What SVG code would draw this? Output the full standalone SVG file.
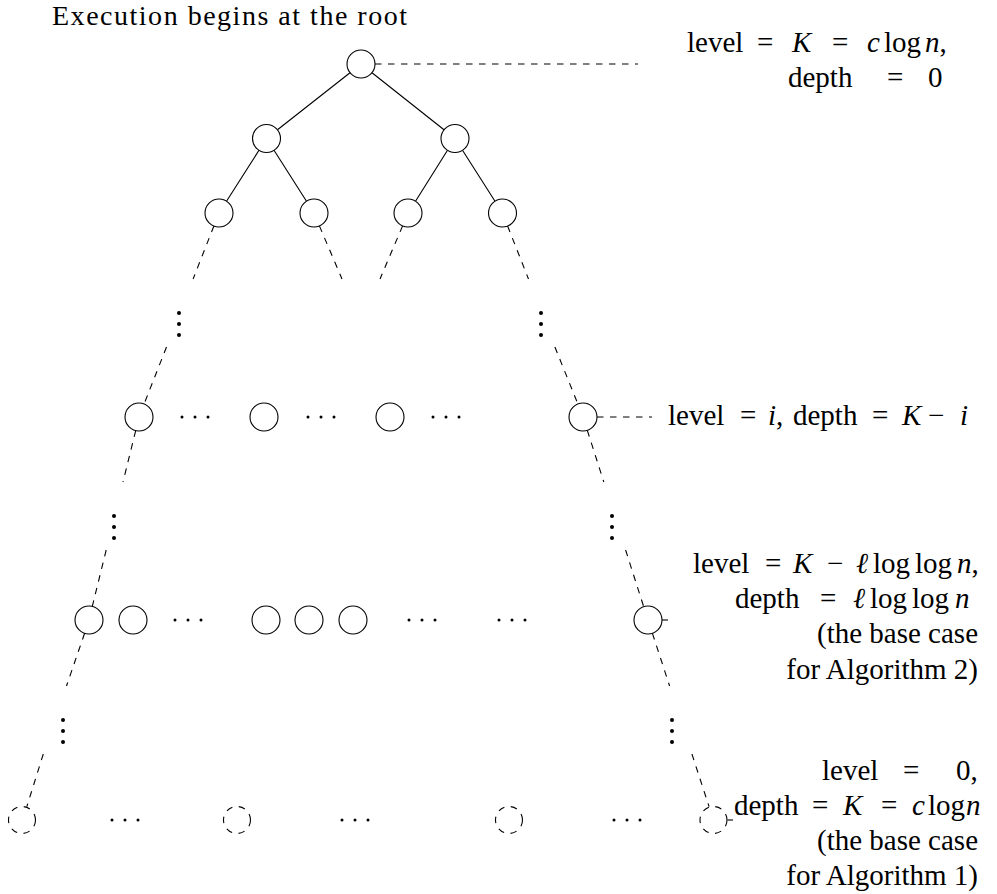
<svg xmlns="http://www.w3.org/2000/svg" width="997" height="894" viewBox="0 0 997 894">
<style>
.t{font-family:"Liberation Serif","DejaVu Serif",serif;font-size:29px;fill:#000}
.m{font-style:italic}
.n{fill:#fff;stroke:#000;stroke-width:1.1}
.dn{fill:#fff;stroke:#000;stroke-width:1.1;stroke-dasharray:6.5 6.5}
.e{fill:none;stroke:#000;stroke-width:1.1}
.d{fill:none;stroke:#000;stroke-width:1.1;stroke-dasharray:6.5 6.5}
.dot{fill:#000}
</style>
<rect width="997" height="894" fill="#fff"/>
<text class="t" x="52" y="25" style="font-size:28px" textLength="355" lengthAdjust="spacing">Execution begins at the root</text>
<g id="connectors">
<path class="e" d="M350,72.7 L277.5,129.8 M372,72.7 L444,129.8 M259,150.3 L226.5,201.2 M274,150.3 L306.5,201.2 M447.5,150.3 L415.5,201.2 M462.5,150.3 L495,201.2"/>
<path class="d" d="M213.9,226 L193.1,279 M166.5,347 L144.1,404"/>
<path class="d" d="M507.6,226 L528.5,279 M554.9,347 L577.9,404"/>
<path class="d" d="M319.4,225.9 L342,279"/>
<path class="d" d="M402.6,225.9 L380,279"/>
<path class="d" d="M135.7,430.6 L123,482 M106.2,550 L92.3,606.4"/>
<path class="d" d="M587.3,430.3 L603.8,482 M625.6,550 L643.7,606.7"/>
<path class="d" d="M84.6,633.3 L66.5,686 M43.3,754 L26.8,806.7"/>
<path class="d" d="M652.4,633.3 L669.6,686 M691.9,754 L709.1,806.7"/>
<path class="d" d="M375,64 H638"/>
<path class="d" d="M597,417 H652"/>
<path class="e" d="M662,620 H668"/>
<path class="e" d="M727.5,820 H733"/>
</g>
<g id="root"><circle class="n" cx="361" cy="64" r="14"/></g>
<g id="n2a"><circle class="n" cx="266.5" cy="138.5" r="14"/></g>
<g id="n2b"><circle class="n" cx="455" cy="138.5" r="14"/></g>
<g id="n3a"><circle class="n" cx="219" cy="213" r="14"/></g>
<g id="n3b"><circle class="n" cx="314" cy="213" r="14"/></g>
<g id="n3c"><circle class="n" cx="408" cy="213" r="14"/></g>
<g id="n3d"><circle class="n" cx="502.5" cy="213" r="14"/></g>
<g id="vdots1"><circle class="dot" cx="179" cy="313" r="2"/><circle class="dot" cx="179" cy="324" r="2"/><circle class="dot" cx="179" cy="335" r="2"/></g>
<g id="vdots2"><circle class="dot" cx="541" cy="313" r="2"/><circle class="dot" cx="541" cy="324" r="2"/><circle class="dot" cx="541" cy="335" r="2"/></g>
<g id="ni1"><circle class="n" cx="139" cy="417" r="14"/></g>
<g id="ni2"><circle class="n" cx="264" cy="417" r="14"/></g>
<g id="ni3"><circle class="n" cx="390" cy="417" r="14"/></g>
<g id="ni4"><circle class="n" cx="583" cy="417" r="14"/></g>
<g id="hdots-i"><circle class="dot" cx="182" cy="417" r="1.5"/><circle class="dot" cx="195" cy="417" r="1.5"/><circle class="dot" cx="208" cy="417" r="1.5"/><circle class="dot" cx="308" cy="417" r="1.5"/><circle class="dot" cx="321" cy="417" r="1.5"/><circle class="dot" cx="334" cy="417" r="1.5"/><circle class="dot" cx="433" cy="417" r="1.5"/><circle class="dot" cx="446" cy="417" r="1.5"/><circle class="dot" cx="459" cy="417" r="1.5"/></g>
<g id="vdots3"><circle class="dot" cx="114" cy="516" r="2"/><circle class="dot" cx="114" cy="527" r="2"/><circle class="dot" cx="114" cy="538" r="2"/></g>
<g id="vdots4"><circle class="dot" cx="612" cy="516" r="2"/><circle class="dot" cx="612" cy="527" r="2"/><circle class="dot" cx="612" cy="538" r="2"/></g>
<g id="nl1"><circle class="n" cx="89" cy="620" r="14"/></g>
<g id="nl2"><circle class="n" cx="133" cy="620" r="14"/></g>
<g id="nl3"><circle class="n" cx="266" cy="620" r="14"/></g>
<g id="nl4"><circle class="n" cx="309" cy="620" r="14"/></g>
<g id="nl5"><circle class="n" cx="353" cy="620" r="14"/></g>
<g id="nl6"><circle class="n" cx="648" cy="620" r="14"/></g>
<g id="hdots-l"><circle class="dot" cx="175" cy="620" r="1.5"/><circle class="dot" cx="188" cy="620" r="1.5"/><circle class="dot" cx="201" cy="620" r="1.5"/><circle class="dot" cx="409" cy="620" r="1.5"/><circle class="dot" cx="422" cy="620" r="1.5"/><circle class="dot" cx="435" cy="620" r="1.5"/><circle class="dot" cx="499" cy="620" r="1.5"/><circle class="dot" cx="512" cy="620" r="1.5"/><circle class="dot" cx="525" cy="620" r="1.5"/></g>
<g id="vdots5"><circle class="dot" cx="63" cy="720" r="2"/><circle class="dot" cx="63" cy="731" r="2"/><circle class="dot" cx="63" cy="742" r="2"/></g>
<g id="vdots6"><circle class="dot" cx="672" cy="720" r="2"/><circle class="dot" cx="672" cy="731" r="2"/><circle class="dot" cx="672" cy="742" r="2"/></g>
<g id="nb1"><circle class="dn" cx="22" cy="820" r="13.5"/></g>
<g id="nb2"><circle class="dn" cx="237" cy="820" r="13.5"/></g>
<g id="nb3"><circle class="dn" cx="509" cy="820" r="13.5"/></g>
<g id="nb4"><circle class="dn" cx="713.5" cy="820" r="13.5"/></g>
<g id="hdots-b"><circle class="dot" cx="112" cy="820" r="1.5"/><circle class="dot" cx="125" cy="820" r="1.5"/><circle class="dot" cx="138" cy="820" r="1.5"/><circle class="dot" cx="342" cy="820" r="1.5"/><circle class="dot" cx="355" cy="820" r="1.5"/><circle class="dot" cx="368" cy="820" r="1.5"/><circle class="dot" cx="614" cy="820" r="1.5"/><circle class="dot" cx="627" cy="820" r="1.5"/><circle class="dot" cx="640" cy="820" r="1.5"/></g>
<g id="label-root">
<text class="t" y="52"><tspan x="687">level</tspan><tspan x="757">=</tspan><tspan x="792" class="m">K</tspan><tspan x="832">=</tspan><tspan x="867" class="m">c</tspan><tspan x="884">log</tspan><tspan x="925" class="m">n</tspan><tspan>,</tspan></text>
<text class="t" y="87"><tspan x="788">depth</tspan><tspan x="887">=</tspan><tspan x="928">0</tspan></text>
</g>
<g id="label-i">
<text class="t" y="425"><tspan x="668">level</tspan><tspan x="740">=</tspan><tspan x="768" class="m">i</tspan><tspan>,</tspan><tspan x="793">depth</tspan><tspan x="872">=</tspan><tspan x="902" class="m">K</tspan><tspan x="928">−</tspan><tspan x="960" class="m">i</tspan></text>
</g>
<g id="label-l">
<text class="t" y="573"><tspan x="693">level</tspan><tspan x="765">=</tspan><tspan x="793" class="m">K</tspan><tspan x="827">−</tspan><tspan x="856" class="m">ℓ</tspan><tspan x="873">log</tspan><tspan x="915">log</tspan><tspan x="957" class="m">n</tspan><tspan>,</tspan></text>
<text class="t" y="608"><tspan x="735">depth</tspan><tspan x="820">=</tspan><tspan x="853" class="m">ℓ</tspan><tspan x="870">log</tspan><tspan x="912">log</tspan><tspan x="955" class="m">n</tspan></text>
<text class="t" x="978" y="643" text-anchor="end">(the base case</text>
<text class="t" x="978" y="679" text-anchor="end">for Algorithm 2)</text>
</g>
<g id="label-b">
<text class="t" y="780"><tspan x="822">level</tspan><tspan x="903">=</tspan><tspan x="956">0,</tspan></text>
<text class="t" y="815"><tspan x="734">depth</tspan><tspan x="812">=</tspan><tspan x="843" class="m">K</tspan><tspan x="881">=</tspan><tspan x="912" class="m">c</tspan><tspan x="928">log</tspan><tspan x="966" class="m">n</tspan></text>
<text class="t" x="978" y="850" text-anchor="end">(the base case</text>
<text class="t" x="978" y="885" text-anchor="end">for Algorithm 1)</text>
</g>
</svg>
